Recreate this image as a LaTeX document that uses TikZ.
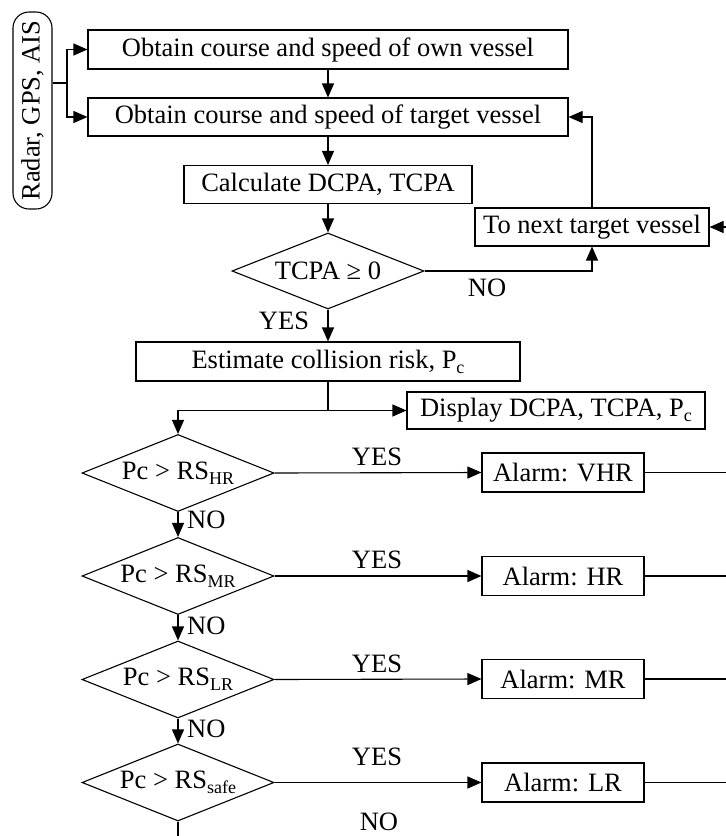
\documentclass[tikz,border=0pt]{standalone}
\usepackage{fontspec}
\setmainfont{Liberation Serif}
\usetikzlibrary{arrows.meta,shapes.geometric}
\newcommand\subtx[1]{\raisebox{-5pt}{\fontsize{18}{18}\selectfont #1}}
\begin{document}
\begin{tikzpicture}[x=1pt,y=-1pt, font=\fontsize{26.5}{30}\selectfont,
  box/.style={draw, line width=1.1pt, inner sep=0pt, minimum height=38pt, align=center},
  dia/.style={draw, diamond, aspect=2.5, line width=1.1pt, inner sep=0pt, minimum width=192pt, minimum height=77pt},
  arr/.style={line width=1.1pt, -{Triangle[length=14pt,width=12pt]}},
  ln/.style={line width=1.1pt},
  lbl/.style={inner sep=0pt}]
\useasboundingbox (0,0) rectangle (726,836);
% nodes
\node[draw, rounded corners=16pt, rotate=90, minimum width=197pt, minimum height=39pt, inner sep=0pt, line width=1.1pt] (radar) at (32.5,110.5) {Radar, GPS, AIS};
\node[box, minimum width=480pt, minimum height=39pt] (own) at (328,49.5) {Obtain course and speed of own vessel};
\node[box, minimum width=480pt] (target) at (328,117) {Obtain course and speed of target vessel};
\node[box, minimum width=288pt] (calc) at (328,184.5) {Calculate DCPA, TCPA};
\node[dia, minimum height=76pt] (tcpa) at (328,271) {TCPA ≥ 0};
\node[box, minimum width=234pt] (next) at (592,227) {To next target vessel};
\node[box, minimum width=384pt, minimum height=39pt] (est) at (328,361.5) {Estimate collision risk, P\subtx{c}};
\node[box, minimum width=298pt, minimum height=37pt] (disp) at (556,410.5) {Display DCPA, TCPA, P\subtx{c}};
\node[dia] (d1) at (178,473) {Pc > RS\subtx{HR}};
\node[dia] (d2) at (178,576) {Pc > RS\subtx{MR}};
\node[dia] (d3) at (178,679.5) {Pc > RS\subtx{LR}};
\node[dia] (d4) at (178,782.5) {Pc > RS\subtx{safe}};
\node[box, minimum width=162pt, minimum height=39pt] (a1) at (563,472.5) {Alarm: VHR};
\node[box, minimum width=162pt, minimum height=39pt] (a2) at (563,576) {Alarm: HR};
\node[box, minimum width=162pt, minimum height=39pt] (a3) at (563,679) {Alarm: MR};
\node[box, minimum width=162pt, minimum height=39pt] (a4) at (563,782.5) {Alarm: LR};
% labels
\node[lbl] (lno0) at (487,287.5) {NO};
\node[lbl] (lyes0) at (284,321) {YES};
\node[lbl] (ly1) at (377,457) {YES};
\node[lbl] (ly2) at (377,560) {YES};
\node[lbl] (ly3) at (377,664) {YES};
\node[lbl] (ly4) at (377,757) {YES};
\node[lbl, anchor=west] (ln1) at (187,520) {NO};
\node[lbl, anchor=west] (ln2) at (187,625.5) {NO};
\node[lbl, anchor=west] (ln3) at (187,728.5) {NO};
\node[lbl] (ln4) at (379,822) {NO};
% coordinates
\coordinate (split) at (67,83);
\coordinate (rin) at (726,227);
\coordinate (br) at (328,410.5);
\coordinate (bot) at (178,836);
% connectors
\draw[ln] (split -| radar.south) -- (split);
\draw[arr] (split) |- (own.west);
\draw[arr] (split) |- (target.west);
\draw[arr] (own) -- (target);
\draw[arr] (target) -- (calc);
\draw[arr] (calc) -- (tcpa);
\draw[arr] (tcpa.east) -| (next.south);
\draw[arr] (next.north) |- (target.east);
\draw[arr] (rin) -- (next.east);
\draw[arr] (tcpa.south) -- (est.north);
\draw[ln] (est.south) -- (br);
\draw[arr] (br) -- (disp.west);
\draw[arr] (br) -| (d1.north);
\draw[arr] (d1.east) -- (a1.west);
\draw[arr] (d2.east) -- (a2.west);
\draw[arr] (d3.east) -- (a3.west);
\draw[arr] (d4.east) -- (a4.west);
\draw[arr] (d1.south) -- (d2.north);
\draw[arr] (d2.south) -- (d3.north);
\draw[arr] (d3.south) -- (d4.north);
\draw[ln] (d4.south) -- (bot);
\draw[ln] (a1.east) -- (a1.east -| rin);
\draw[ln] (a2.east) -- (a2.east -| rin);
\draw[ln] (a3.east) -- (a3.east -| rin);
\draw[ln] (a4.east) -- (a4.east -| rin);
\end{tikzpicture}
\end{document}
